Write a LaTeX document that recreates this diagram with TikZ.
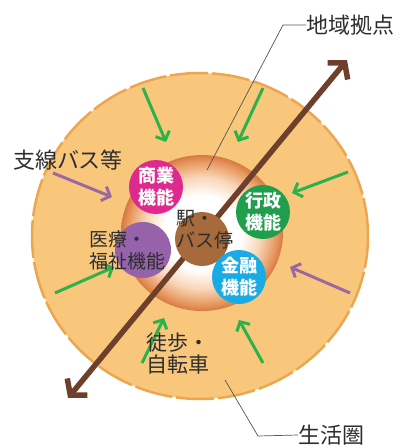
\documentclass[tikz,border=0pt]{standalone}
\usepackage{fontspec}
\usetikzlibrary{arrows.meta}
\newfontfamily\cjk{Noto Sans CJK JP}
\definecolor{outerfill}{HTML}{F9C77C}
\definecolor{outerrim}{HTML}{EDA650}
\definecolor{glowedge}{HTML}{D67A45}
\definecolor{glowouter}{HTML}{E8975E}
\definecolor{glowmid}{HTML}{F8D6B6}
\definecolor{brownc}{HTML}{A66A3C}
\definecolor{brownarrow}{HTML}{6E3F2B}
\definecolor{magentac}{HTML}{DE2A8E}
\definecolor{greenc}{HTML}{1F9E4B}
\definecolor{purplec}{HTML}{9662AA}
\definecolor{cyanc}{HTML}{1AAAE4}
\definecolor{greenarrow}{HTML}{2BB24A}
\definecolor{purplearrow}{HTML}{9A68A2}
\definecolor{textdark}{HTML}{2E2E2E}
\definecolor{leader}{HTML}{555555}
\pgfdeclareradialshading{innerglow}{\pgfpoint{0bp}{0bp}}{color(0bp)=(white); color(12bp)=(white); color(18bp)=(glowmid); color(23bp)=(glowouter); color(25bp)=(glowedge); color(50bp)=(glowedge)}
\tikzset{
  func/.style={circle, inner sep=0pt, minimum size=54pt, text=white, font=\cjk\bfseries\fontsize{18}{22}\selectfont, align=center},
  darktext/.style={text=textdark, font=\cjk\fontsize{19}{22}\selectfont, align=left, inner sep=0pt},
  labeltext/.style={text=textdark, font=\cjk\fontsize{22}{24}\selectfont, inner sep=0pt},
  inflow/.style={greenarrow, line width=3pt, -{Straight Barb[length=7pt,width=15pt]}},
  busflow/.style={purplearrow, line width=3pt, -{Straight Barb[length=7pt,width=15pt]}},
  leaderline/.style={leader, line width=0.7pt},
}
\begin{document}
\begin{tikzpicture}[x=1pt,y=-1pt]
\useasboundingbox[fill=white] (0,0) rectangle (401,448);
% outer living zone
\fill[outerfill] (200,236) ellipse [x radius=168pt, y radius=163pt];
\draw[outerrim, line width=2.5pt, dash pattern=on 38pt off 4pt] (200,236) ellipse [x radius=168pt, y radius=163pt];
% inner hub glow
\shade[shading=innerglow] (202,233) ellipse [x radius=81pt, y radius=78pt];
% green inflow arrows
\coordinate (g1s) at (143,88);  \coordinate (g1e) at (166,142);
\coordinate (g2s) at (263,88);  \coordinate (g2e) at (238,142);
\coordinate (g3s) at (348,172); \coordinate (g3e) at (292,193);
\coordinate (g4s) at (55,293);  \coordinate (g4e) at (114,267);
\coordinate (g5s) at (142,363); \coordinate (g5e) at (164,318);
\coordinate (g6s) at (263,363); \coordinate (g6e) at (239,320);
\draw[inflow] (g1s) -- (g1e);
\draw[inflow] (g2s) -- (g2e);
\draw[inflow] (g3s) -- (g3e);
\draw[inflow] (g4s) -- (g4e);
\draw[inflow] (g5s) -- (g5e);
\draw[inflow] (g6s) -- (g6e);
% purple bus arrows
\coordinate (p1s) at (53,173);  \coordinate (p1e) at (112,197);
\coordinate (p2s) at (350,293); \coordinate (p2e) at (290,267);
\draw[busflow] (p1s) -- (p1e);
\draw[busflow] (p2s) -- (p2e);
% main axis arrow
\coordinate (axA) at (68,398);
\coordinate (axB) at (347,60);
\draw[brownarrow, line width=5.5pt, {Straight Barb[length=11pt,width=26pt]}-{Straight Barb[length=11pt,width=26pt]}] (axA) -- (axB);
% function circles
\node[func, fill=brownc] (station) at (202,239) {};
\node[func, fill=magentac] (shogyo) at (156,187) {商業\\機能};
\node[func, fill=greenc] (gyosei) at (263,212) {行政\\機能};
\node[func, fill=purplec, minimum size=56pt] (iryo) at (143,250) {};
\node[func, fill=cyanc] (kinyu) at (239,277) {金融\\機能};
\node[darktext, anchor=west] (iryotext) at (89,250) {医療・\\福祉機能};
\node[darktext, anchor=west] (stationtext) at (176,230) {駅・\\バス停};
\node[labeltext, anchor=west, align=left, font=\cjk\fontsize{21}{22}\selectfont] (toho) at (146,354) {徒歩・\\自転車};
% labels
\node[labeltext] (shisen) at (68,160) {支線バス等};
\node[labeltext, anchor=west] (chiiki) at (306,25) {地域拠点};
\node[labeltext, anchor=west] (seikatsu) at (298,435) {生活圏};
\coordinate (chiikiBend) at (283,25);
\coordinate (chiikiEnd) at (207,170);
\coordinate (seikatsuBend) at (258,436);
\coordinate (seikatsuEnd) at (225,380);
\draw[leaderline] (chiiki.west) -- (chiikiBend) -- (chiikiEnd);
\draw[leaderline] (seikatsu.west) -- (seikatsuBend) -- (seikatsuEnd);
\end{tikzpicture}
\end{document}
